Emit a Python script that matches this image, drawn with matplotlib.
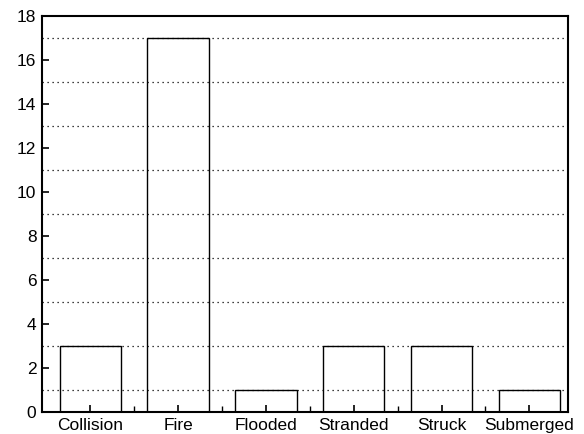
import numpy as np
import matplotlib.pyplot as plt

categories = ["Collision", "Fire", "Flooded", "Stranded", "Struck", "Submerged"]
counts = [3, 17, 1, 3, 3, 1]

plt.rcParams['font.family'] = ['Liberation Sans', 'DejaVu Sans']

fig = plt.figure(figsize=(5.84, 4.34), dpi=100)
ax = fig.add_axes([42 / 584, 22 / 434, 526 / 584, 396 / 434])

x = np.arange(len(categories))
ax.bar(x, counts, width=0.7, fill=False, edgecolor="black", linewidth=1.0, zorder=3)

ax.set_xlim(-0.55, 5.44)
ax.set_ylim(0, 18)
ax.set_xticks(x)
ax.set_xticklabels(categories)
ax.set_xticks(x[:-1] + 0.5, minor=True)
ax.set_yticks(np.arange(0, 19, 2))
ax.set_yticks(np.arange(1, 18, 2), minor=True)

ax.grid(axis="y", which="minor", linestyle=(0, (1, 3)), color="black", linewidth=0.9)
ax.tick_params(axis="both", which="major", direction="in", length=5, width=1.2, labelsize=12.5, pad=4)
ax.tick_params(axis="x", which="minor", direction="in", length=4, width=1.0)
ax.tick_params(axis="y", which="minor", direction="in", length=0)
for s in ax.spines.values():
    s.set_linewidth(1.5)

fig.savefig("out.png", dpi=100)
